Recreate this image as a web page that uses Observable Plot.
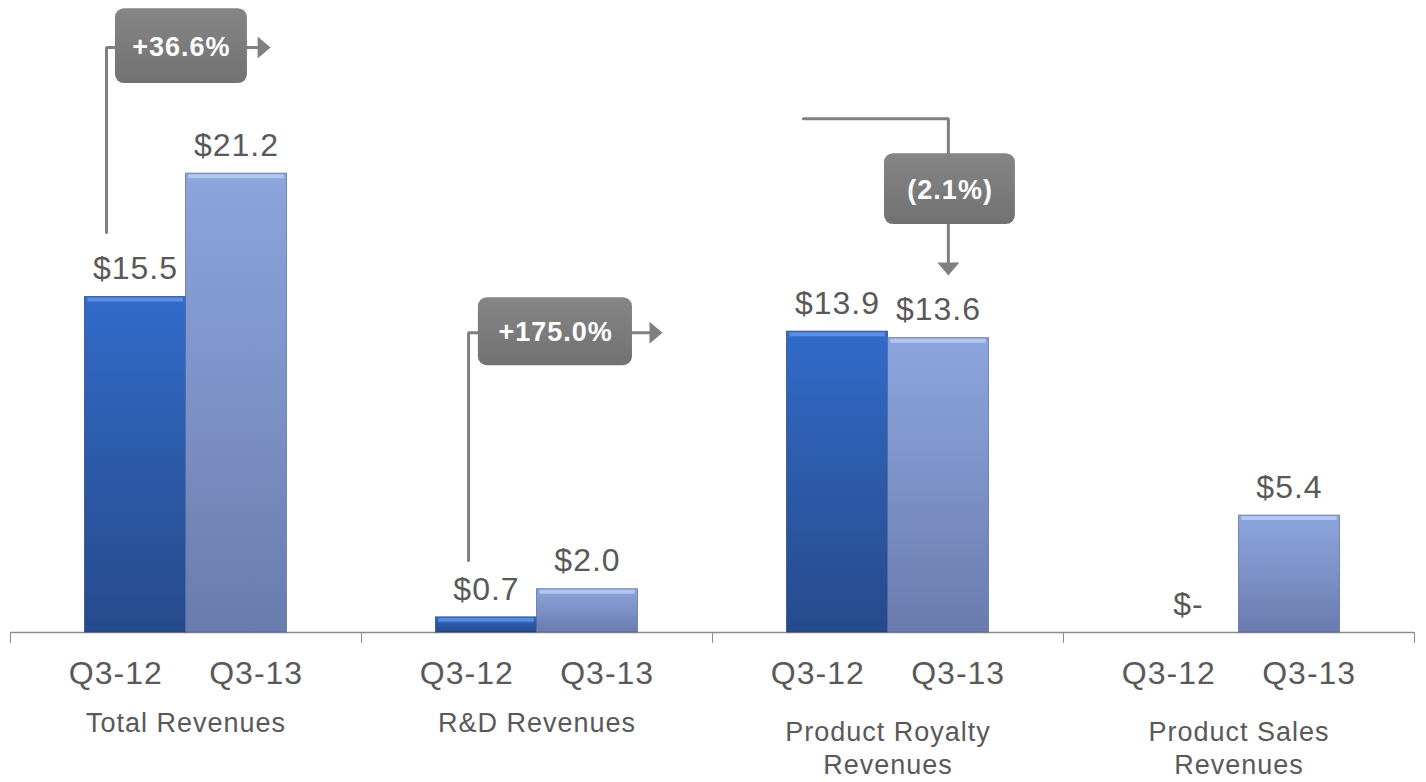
<!DOCTYPE html>
<html>
<head>
<meta charset="utf-8">
<script src="https://cdn.jsdelivr.net/npm/d3@7"></script>
<script src="https://cdn.jsdelivr.net/npm/@observablehq/plot@0.6"></script>
<style>
  html, body { margin: 0; padding: 0; background: #ffffff; }
  #chart svg { display: block; }
</style>
</head>
<body>
<div id="chart"></div>
<script>
// ---- data ----
const groups = ["Total Revenues", "R&D Revenues", "Product Royalty Revenues", "Product Sales Revenues"];
const groupLabels = ["Total Revenues", "R&D Revenues", "Product Royalty\nRevenues", "Product Sales\nRevenues"];
const periods = ["Q3-12", "Q3-13"];
const q312 = [15.5, 0.7, 13.9, 0];
const q313 = [21.2, 2.0, 13.6, 5.4];
const changeLabels = ["+36.6%", "+175.0%", "(2.1%)"];

// ---- layout (group-relative units; one group = 1 x-unit) ----
const bw = 0.2877;      // bar width
const tickOff = 0.2;    // period label offset from group centre

const rows = groups.flatMap((g, i) => [
  {g: i, group: g, period: periods[0], value: q312[i]},
  {g: i, group: g, period: periods[1], value: q313[i]}
]);
const bx1 = d => d.g + 0.5 - (d.period === periods[0] ? bw : 0);
const bx2 = d => bx1(d) + bw;
const bxc = d => bx1(d) + bw / 2;

// annotation layout
const notes = [
  {g: 0, text: changeLabels[0], bx: [0.299, 0.675], by: [25.36, 28.82], tx: 0.487, ty: 27.03,
   path: [[0.2735, 18.48], [0.2735, 27.03], [0.704, 27.03]], head: [0.704, 27.03], dir: "right"},
  {g: 1, text: changeLabels[1], bx: [0.333, 0.772], by: [12.33, 15.47], tx: 0.553, ty: 13.85,
   path: [[0.305, 3.33], [0.305, 13.85], [0.8205, 13.85]], head: [0.8205, 13.85], dir: "right"},
  {g: 2, text: changeLabels[2], bx: [0.490, 0.863], by: [18.85, 22.12], tx: 0.677, ty: 20.45,
   path: [[0.259, 23.74], [0.672, 23.74], [0.672, 17.09]], head: [0.672, 17.09], dir: "down"}
];
const notePts = notes.flatMap((n, k) => n.path.map(([x, y]) => ({id: k, x: n.g + x, y})));

const symRight = {draw(ctx) { ctx.moveTo(13, 0); ctx.lineTo(0, -11); ctx.lineTo(0, 11); ctx.closePath(); }};
const symDown = {draw(ctx) { ctx.moveTo(0, 13); ctx.lineTo(-11, 0); ctx.lineTo(11, 0); ctx.closePath(); }};

const textGrey = "#595959";
const lineGrey = "#808080";

const chart = Plot.plot({
  width: 1426,
  height: 782,
  marginLeft: 10,
  marginRight: 12,
  marginTop: 0,
  marginBottom: 150,
  x: {domain: [0, 4], ticks: [0, 1, 2, 3, 4], tickSize: 11, tickFormat: () => "", label: null},
  y: {domain: [0, 29.2], axis: null},
  style: {fontFamily: "'Liberation Sans', Arial, sans-serif", color: "#8c8c8c", letterSpacing: "1px", background: "#ffffff", overflow: "visible"},
  marks: [
    Plot.ruleY([0], {stroke: "#8c8c8c", strokeWidth: 1.5}),
    // bars
    Plot.rect(rows.filter(d => d.value > 0 && d.period === periods[0]), {
      x1: bx1, x2: bx2, y1: 0, y2: "value", fill: "url(#gradDark)", stroke: "#1f3f7c", strokeOpacity: 0.7, strokeWidth: 1
    }),
    Plot.rect(rows.filter(d => d.value > 0 && d.period === periods[1]), {
      x1: bx1, x2: bx2, y1: 0, y2: "value", fill: "url(#gradLight)", stroke: "#56679a", strokeOpacity: 0.7, strokeWidth: 1
    }),
    // top bevel highlights
    Plot.ruleY(rows.filter(d => d.value > 0 && d.period === periods[0]), {
      y: "value", x1: d => bx1(d) + 0.008, x2: d => bx2(d) - 0.008, stroke: "#5a8ee2", strokeWidth: 4, dy: 2.5
    }),
    Plot.ruleY(rows.filter(d => d.value > 0 && d.period === periods[1]), {
      y: "value", x1: d => bx1(d) + 0.008, x2: d => bx2(d) - 0.008, stroke: "#b3c7f0", strokeWidth: 4, dy: 2.5
    }),
    // value labels
    Plot.text(rows, {
      x: bxc, y: "value", text: d => d.value ? `$${d.value.toFixed(1)}` : "$-",
      dy: -28, fontSize: 32, fill: textGrey
    }),
    // period labels
    Plot.text(rows, {
      x: d => d.g + 0.5 + (d.period === periods[0] ? -tickOff : tickOff), y: 0, text: "period",
      dy: 41, fontSize: 32, fill: textGrey
    }),
    // group labels
    Plot.text(d3.range(groups.length), {
      filter: i => !groupLabels[i].includes("\n"),
      x: i => i + 0.5, y: 0, text: i => groupLabels[i], dy: 91, fontSize: 27, fill: textGrey
    }),
    Plot.text(d3.range(groups.length), {
      filter: i => groupLabels[i].includes("\n"),
      x: i => i + 0.5, y: 0, text: i => groupLabels[i], dy: 114.5, lineHeight: 1.22, fontSize: 27, fill: textGrey
    }),
    // annotation connectors
    Plot.line(notePts, {x: "x", y: "y", z: "id", stroke: lineGrey, strokeWidth: 3, strokeLinejoin: "miter", curve: "linear"}),
    Plot.dot(notes.filter(n => n.dir === "right"), {x: n => n.g + n.head[0], y: n => n.head[1], r: 5, symbol: symRight, fill: lineGrey, stroke: "none"}),
    Plot.dot(notes.filter(n => n.dir === "down"), {x: n => n.g + n.head[0], y: n => n.head[1], r: 5, symbol: symDown, fill: lineGrey, stroke: "none"}),
    Plot.rect(notes, {x1: n => n.g + n.bx[0], x2: n => n.g + n.bx[1], y1: n => n.by[0], y2: n => n.by[1], rx: 9, fill: "url(#gradBox)"}),
    Plot.text(notes, {x: n => n.g + n.tx, y: n => n.ty, text: "text", fill: "#ffffff", fontWeight: "bold", fontSize: 27})
  ]
});

// gradient definitions for 3D-ish fills
const svg = d3.select(chart.tagName.toLowerCase() === "svg" ? chart : chart.querySelector("svg"));
const defs = svg.insert("defs", ":first-child");
function grad(id, stops) {
  const lg = defs.append("linearGradient").attr("id", id).attr("x1", 0).attr("y1", 0).attr("x2", 0).attr("y2", 1);
  stops.forEach(([o, c]) => lg.append("stop").attr("offset", o).attr("stop-color", c));
}
grad("gradDark", [[0, "#326bcb"], [0.5, "#2c5aa8"], [1, "#264a8c"]]);
grad("gradLight", [[0, "#8ca5dd"], [0.5, "#7c91c6"], [1, "#6a7bae"]]);
grad("gradBox", [[0, "#858585"], [1, "#727272"]]);

document.getElementById("chart").appendChild(chart);
</script>
</body>
</html>
